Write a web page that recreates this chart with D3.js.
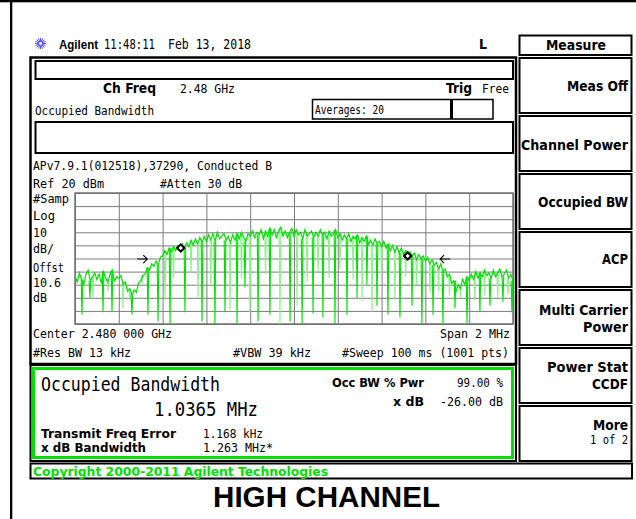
<!DOCTYPE html>
<html><head><meta charset="utf-8">
<script src="https://cdn.jsdelivr.net/npm/d3@7"></script>
<style>body{margin:0;background:#fff}svg{display:block}</style>
</head><body><svg id="c" width="636" height="519"></svg>
<script>
// ---------------- data ----------------
const centerGHz = 2.48, spanMHz = 2;
const refLevelDbm = 20, bottomLevelDbm = -80;
const xGridTicks = [-1,-0.8,-0.6,-0.4,-0.2,0,0.2,0.4,0.6,0.8,1];
const yGridTicks = [20,10,0,-10,-20,-30,-40,-50,-60,-70,-80];
const traceStartMHz = -1, traceStepMHz = 0.01;
const traceDbm = [
 -43,-48,-41,-46,-50,-42,-39,-47,-44,-41,
 -46,-42,-49,-40,-45,-48,-42,-39,-47,-44,
 -45,-43,-50,-48,-55,-53,-58,-54,-56,-49,
 -47,-43,-42,-37,-39,-34,-36,-32,-35,-29,
 -28,-24,-27,-22,-25,-21,-24,-20,-23,-19,
 -22,-18,-21,-16,-20,-15,-19,-14,-18,-13,
 -17,-12,-16,-11,-17,-10,-15,-13,-11,-16,
 -13,-18,-12,-16,-11,-15,-10,-14,-17,-11,
 -13,-9,-14,-10,-12,-8,-15,-9,-13,-7,
 -12,-8,-14,-9,-6,-13,-9,-14,-10,-7,
 -13,-8,-12,-10,-15,-8,-13,-11,-9,-14,
 -10,-13,-8,-12,-10,-15,-9,-13,-11,-8,
 -14,-11,-16,-12,-15,-11,-17,-13,-15,-12,
 -18,-14,-17,-13,-19,-16,-20,-15,-19,-17,
 -21,-17,-22,-19,-24,-20,-25,-21,-26,-22,
 -27,-24,-29,-25,-28,-26,-31,-27,-30,-28,
 -32,-29,-34,-31,-35,-33,-38,-34,-40,-38,
 -44,-42,-49,-47,-55,-50,-53,-46,-50,-44,
 -47,-42,-46,-40,-45,-41,-44,-39,-43,-41,
 -45,-39,-44,-41,-38,-44,-42,-39,-45,-42,-47
];
const dipFreqs = [-0.968,-0.932,-0.872,-0.831,-0.740,-0.667,-0.621,-0.566,-0.498,-0.420,
  -0.361,-0.315,-0.260,-0.224,-0.164,-0.110,-0.018,0.037,0.087,0.132,
  0.187,0.242,0.288,0.333,0.379,0.429,0.484,0.539,0.584,0.635,
  0.680,0.735,0.790,0.849,0.895,0.954,0.995];
const dipDbm = [-73,-60,-71,-71,-73,-73,-78,-80,-71,-78,
  -80,-71,-80,-52,-78,-73,-78,-80,-72,-75,
  -80,-73,-60,-50,-66,-73,-75,-66,-80,-73,
  -80,-68,-80,-71,-66,-63,-71];
const lightDipFreqs = [-0.918,-0.781,-0.694,-0.589,-0.438,-0.292,-0.201,-0.064,0.014,0.311,
  0.356,0.461,0.621,0.826,0.977,-0.85,-0.75,-0.55,-0.47,-0.38,
  -0.24,-0.13,0.06,0.11,0.16,0.21,0.27,0.40,0.51,0.56,
  0.66,0.71,0.76,0.87,0.93];
const lightDipDbm = [-60,-68,-50,-62,-60,-69,-71,-80,-66,-62,
  -71,-62,-56,-62,-58,-55,-62,-45,-40,-50,
  -45,-42,-48,-40,-45,-38,-46,-45,-44,-50,
  -55,-58,-60,-58,-60];
const obwMarkerFreqs = [-0.517, 0.519];
const obwMarkerDbm = [-22, -28];
const xdbArrowFreqs = [-0.67, 0.667];
const xdbArrowDbm = -30.4;

// ---------------- drawing ----------------
const svg = d3.select('#c');
const MONO = "'DejaVu Sans Mono', monospace";
const SANS = "'DejaVu Sans Condensed', 'DejaVu Sans', sans-serif";
const ARIAL = "'Liberation Sans', Arial, sans-serif";
const GREEN = '#00e000';

function rect(x,y,w,h,stroke,sw,fill){
  return svg.append('rect').attr('x',x).attr('y',y).attr('width',w).attr('height',h)
    .attr('fill',fill||'none').attr('stroke',stroke||'none').attr('stroke-width',sw||0);
}
function txt(x,y,s,o){
  o=o||{};
  let xs = x;
  if (o.right !== undefined && o.w) xs = o.right - o.w;
  const t = svg.append('text').attr('x',xs).attr('y',y).text(s)
    .attr('font-family',o.ff||MONO).attr('font-size',o.fs||13)
    .attr('font-weight',o.bold?'bold':'normal').attr('fill',o.fill||'#000');
  if (o.w) t.attr('textLength',o.w).attr('lengthAdjust','spacingAndGlyphs');
  if (o.anchor) t.attr('text-anchor',o.anchor);
  return t;
}

// page borders
rect(0,0,636,2.3,null,0,'#000');
rect(10,0,2.3,519,null,0,'#000');

// header
const logo = svg.append('g').attr('transform','translate(40.5,43.5)');
for (let k=0;k<8;k++){
  const a = k*Math.PI/8;
  logo.append('line').attr('x1',-5.5*Math.cos(a)).attr('y1',-5.5*Math.sin(a))
    .attr('x2',5.5*Math.cos(a)).attr('y2',5.5*Math.sin(a))
    .attr('stroke','#5050ff').attr('stroke-width',1);
}
logo.append('circle').attr('r',2).attr('fill','#fff').attr('stroke','#5050ff');
txt(59,48.5,'Agilent',{ff:ARIAL,bold:true,fs:13.5,w:39});
txt(104,48.5,'11:48:11',{fs:14,w:51});
txt(168,48.5,'Feb 13, 2018',{fs:14,w:83});
txt(479,48.5,'L',{ff:SANS,bold:true,fs:13.5,w:8});

// main frame + boxes
rect(30.5,57.5,485.5,306.5,'#000',2.5);
rect(35.5,61,477.5,18,'#000',2);
rect(35.5,122,477.5,31,'#000',2);
rect(312.5,99.5,180.5,19.5,'#000',1.5);
rect(450,99.5,3,19.5,null,0,'#000');

txt(103,93,'Ch Freq',{ff:SANS,bold:true,fs:14,w:53});
txt(180,93,'2.48 GHz',{w:55});
txt(446,93,'Trig',{ff:SANS,bold:true,fs:14,w:26});
txt(482,93,'Free',{w:27});
txt(35,115,'Occupied Bandwidth',{w:119});
txt(315,114,'Averages: 20',{fs:12,w:69});
txt(33,170,'APv7.9.1(012518),37290, Conducted B',{w:239});
txt(33,188,'Ref 20 dBm',{w:71});
txt(160,188,'#Atten 30 dB',{w:82});
const sideLabels = [['#Samp',203,36],['Log',220,22],['10',237,14],['dB/',253,21],['Offst',272,31],['10.6',287,28],['dB',302,14]];
sideLabels.forEach(d=>txt(33,d[1],d[0],{w:d[2]}));
txt(33,338,'Center 2.480 000 GHz',{w:139});
txt(0,338,'Span 2 MHz',{right:510,w:70});
txt(33,357,'#Res BW 13 kHz',{w:98});
txt(233,357,'#VBW 39 kHz',{w:78});
txt(0,357,'#Sweep 100 ms (1001 pts)',{right:509,w:167});

// plot
const x = d3.scaleLinear().domain([-spanMHz/2, spanMHz/2]).range([75,513]);
const y = d3.scaleLinear().domain([bottomLevelDbm, refLevelDbm]).range([324,193]);
const gx = svg.append('g').attr('transform','translate(0,324)')
  .call(d3.axisBottom(x).tickValues(xGridTicks).tickSize(-131).tickFormat(''));
const gy = svg.append('g').attr('transform','translate(75,0)')
  .call(d3.axisLeft(y).tickValues(yGridTicks).tickSize(-438).tickFormat(''));
[gx,gy].forEach(g=>{
  g.select('.domain').remove();
  g.selectAll('line').attr('stroke','#7c7c7c').attr('stroke-width',1);
});
rect(75,193,438,131,'#707070',1.5);

svg.append('clipPath').attr('id','pc').append('rect').attr('x',75).attr('y',192).attr('width',438).attr('height',133);
const plot = svg.append('g').attr('clip-path','url(#pc)');
const traceFreq = traceDbm.map((v,i)=>traceStartMHz + i*traceStepMHz);
const tracePts = traceDbm.map((v,i)=>[traceFreq[i], v]);
const nearestTop = f => traceDbm[Math.max(0,Math.min(traceDbm.length-1,Math.round((f-traceStartMHz)/traceStepMHz)))];
function spikes(freqs, depths, color){
  plot.append('g').selectAll('path').data(freqs).join('path')
    .attr('d',(f,i)=>{
      const xt=x(f), yt=y(nearestTop(f)), yb=y(depths[i]);
      return `M${xt-0.8},${yt}L${xt},${yb}L${xt+0.8},${yt}`;
    })
    .attr('fill','none').attr('stroke',color).attr('stroke-width',1.1);
}
spikes(lightDipFreqs, lightDipDbm, '#8ef08e');
plot.append('path').datum(tracePts)
  .attr('d', d3.line().x(d=>x(d[0])).y(d=>y(d[1])))
  .attr('fill','none').attr('stroke',GREEN).attr('stroke-width',1.2);
spikes(dipFreqs, dipDbm, GREEN);

// OBW markers
svg.append('g').selectAll('path').data(obwMarkerFreqs).join('path')
  .attr('transform',(f,i)=>`translate(${x(f)},${y(obwMarkerDbm[i])}) rotate(45)`)
  .attr('d', d3.symbol(d3.symbolSquare, 26)())
  .attr('fill','#fff').attr('stroke','#000').attr('stroke-width',2);
// x dB arrows
xdbArrowFreqs.forEach((f,i)=>{
  const xt = x(f), yt = y(xdbArrowDbm), dir = i===0 ? -1 : 1;
  svg.append('path')
    .attr('d',`M${xt+dir*10},${yt}L${xt},${yt}M${xt+dir*4},${yt-4}L${xt},${yt}L${xt+dir*4},${yt+4}`)
    .attr('fill','none').attr('stroke','#000').attr('stroke-width',1.1);
});

// result box
rect(30.5,365,485.5,96,'#000',2);
rect(33.5,368.5,479,89,GREEN,3);
txt(41,391,'Occupied Bandwidth',{fs:20,w:179});
txt(154,416,'1.0365 MHz',{fs:20,w:104});
txt(41,438,'Transmit Freq Error',{ff:SANS,bold:true,fs:12.5,w:135});
txt(203,438,'1.168 kHz',{w:60});
txt(41,452,'x dB Bandwidth',{ff:SANS,bold:true,fs:12.5,w:105});
txt(203,452,'1.263 MHz*',{w:70});
txt(332,387,'Occ BW % Pwr',{ff:SANS,bold:true,fs:12.5,w:92});
txt(457,387,'99.00 %',{w:46});
txt(393,406,'x dB',{ff:SANS,bold:true,fs:12.5,w:31});
txt(440,406,'-26.00 dB',{w:63});

// copyright bar
rect(30.5,463.5,601.5,15,'#000',2);
txt(33,475.5,'Copyright 2000-2011 Agilent Technologies',{ff:SANS,bold:true,fs:12.5,w:295,fill:GREEN});

// softkeys
rect(519.5,35.5,112,19.5,'#000',2);
txt(576,50,'Measure',{ff:SANS,bold:true,fs:14,w:60,anchor:'middle'});
for (let k=0;k<7;k++) rect(519.5,58+58*k,112,55,'#000',2);
const keyLines = [
  ['Meas Off',91,61,true],['Channel Power',150,107,true],['Occupied BW',207,90,true],
  ['ACP',264,26,true],['Multi Carrier',315,89,true],['Power',332,45,true],
  ['Power Stat',372,81,true],['CCDF',389,36,true],['More',430,35,true],['1 of 2',444,38,false]
];
keyLines.forEach(d=>txt(0,d[1],d[0],{ff:d[3]?SANS:MONO,bold:d[3],fs:d[3]?14:13,right:628,w:d[2]}));

// caption
txt(326.5,507,'HIGH CHANNEL',{ff:ARIAL,bold:true,fs:29,w:227,anchor:'middle'});
</script>
</body></html>
